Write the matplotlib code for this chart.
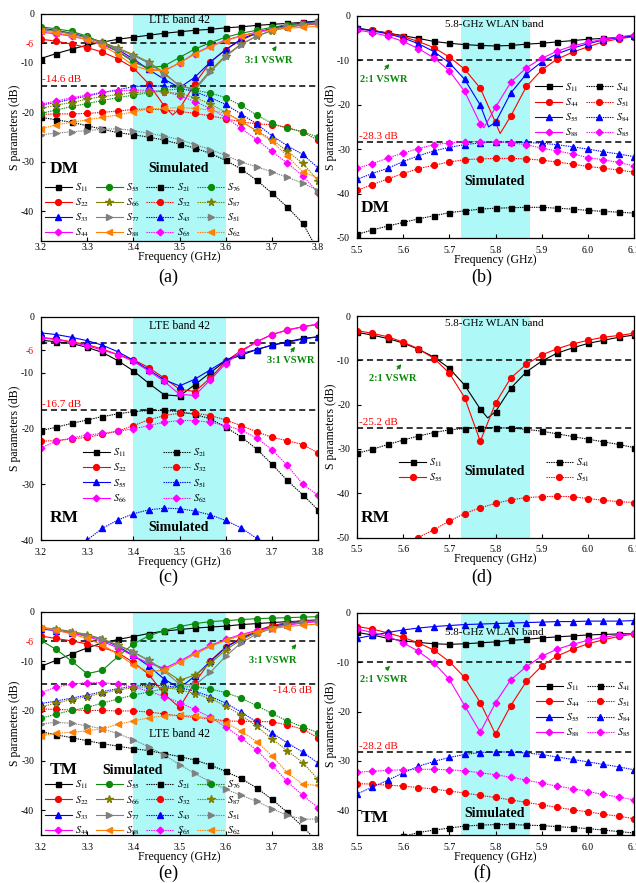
import numpy as np
import matplotlib.pyplot as plt

plt.rcParams['font.family'] = 'Liberation Serif'
plt.rcParams['mathtext.fontset'] = 'stix'
plt.rcParams['axes.unicode_minus'] = False

# frequency samples (GHz)
f_lte = [3.2, 3.233, 3.267, 3.3, 3.333, 3.367, 3.4, 3.433, 3.467, 3.5,
         3.533, 3.567, 3.6, 3.633, 3.667, 3.7, 3.733, 3.767, 3.8]
f_wlan = [5.5, 5.533, 5.567, 5.6, 5.633, 5.667, 5.7, 5.733, 5.767, 5.8,
          5.833, 5.867, 5.9, 5.933, 5.967, 6.0, 6.033, 6.067, 6.1]

# ---- (a) DM, LTE band ----
a_s11 = [-9.1, -8.1, -7.2, -6.4, -5.8, -5.2, -4.8, -4.4, -4.0, -3.7, -3.4, -3.2, -2.9, -2.7, -2.4, -2.2, -2.0, -1.8, -1.5]
a_s22 = [-5.2, -5.6, -6.2, -6.9, -7.8, -9.2, -11.0, -14.2, -18.7, -19.3, -14.2, -9.8, -7.3, -5.4, -4.0, -3.0, -2.3, -1.9, -1.7]
a_s33 = [-3.0, -3.4, -4.0, -4.8, -5.8, -7.3, -9.2, -11.3, -13.3, -15.0, -12.9, -9.8, -7.3, -5.2, -3.9, -3.0, -2.4, -2.0, -1.6]
a_s44 = [-3.8, -4.1, -4.6, -5.3, -6.3, -7.7, -9.5, -11.3, -11.6, -10.0, -8.1, -6.6, -5.4, -4.5, -3.8, -3.1, -2.7, -2.4, -2.1]
a_s55 = [-2.7, -3.1, -3.6, -4.6, -6.0, -7.7, -9.8, -11.0, -10.6, -8.9, -7.2, -5.9, -4.8, -4.0, -3.4, -2.8, -2.3, -2.1, -1.9]
a_s66 = [-3.2, -3.5, -4.1, -4.9, -5.8, -7.0, -8.3, -9.8, -12.0, -14.7, -15.2, -11.5, -8.5, -6.2, -4.6, -3.5, -2.8, -2.3, -2.0]
a_s77 = [-3.3, -3.6, -4.2, -5.0, -6.0, -7.2, -8.5, -10.0, -12.3, -14.5, -15.5, -11.8, -8.7, -6.3, -4.6, -3.4, -2.6, -2.1, -1.8]
a_s88 = [-3.5, -3.9, -4.5, -5.3, -6.5, -8.3, -10.5, -11.5, -11.5, -10.0, -8.2, -6.7, -5.5, -4.6, -3.9, -3.3, -3.0, -2.8, -2.6]
a_s21 = [-21.0, -21.5, -22.0, -22.7, -23.4, -24.1, -24.5, -25.0, -25.6, -26.4, -27.2, -28.3, -29.7, -31.4, -33.7, -36.3, -39.1, -42.4, -48.0]
a_s32 = [-20.4, -20.3, -20.3, -20.2, -20.0, -19.7, -19.4, -19.3, -19.5, -19.8, -20.2, -20.7, -21.3, -21.9, -22.3, -22.5, -23.0, -24.0, -25.6]
a_s43 = [-18.5, -18.0, -17.3, -16.7, -16.0, -15.4, -14.8, -14.6, -14.7, -15.1, -15.8, -17.0, -18.4, -20.3, -22.3, -24.7, -26.7, -28.5, -31.2]
a_s65 = [-18.3, -17.7, -17.0, -16.5, -15.9, -15.6, -15.5, -15.5, -15.8, -16.6, -17.8, -19.2, -21.0, -23.2, -25.5, -27.9, -30.2, -32.8, -36.2]
a_s76 = [-20.2, -19.5, -18.8, -18.2, -17.6, -17.0, -16.5, -16.0, -15.5, -15.3, -15.5, -16.1, -17.0, -18.6, -20.5, -22.2, -23.2, -23.9, -25.0]
a_s87 = [-19.2, -18.5, -18.0, -17.3, -16.8, -16.4, -16.0, -15.8, -15.8, -16.2, -17.0, -18.3, -20.0, -21.8, -23.7, -25.5, -27.8, -30.3, -33.8]
a_s51 = [-24.5, -24.2, -23.9, -23.7, -23.4, -23.3, -23.7, -24.2, -24.8, -25.5, -26.5, -27.5, -28.7, -30.0, -31.0, -32.0, -33.1, -34.3, -35.8]
a_s62 = [-23.3, -22.5, -22.0, -21.5, -21.0, -20.5, -19.9, -19.3, -19.2, -19.0, -19.2, -19.5, -20.2, -21.7, -23.8, -25.8, -28.8, -32.0, -33.3]
a_s22_dip = (3.485, -20.5)

# ---- (b) DM, WLAN band ----
b_s11 = [-2.8, -3.3, -3.9, -4.5, -5.1, -5.8, -6.2, -6.5, -6.7, -6.8, -6.7, -6.4, -6.2, -5.9, -5.6, -5.3, -5.1, -4.9, -4.6]
b_s44 = [-3.0, -3.3, -3.9, -4.7, -5.8, -7.2, -9.3, -12.0, -16.3, -24.0, -22.6, -15.9, -12.2, -9.8, -8.2, -7.0, -5.9, -5.2, -4.7]
b_s55 = [-2.8, -3.4, -4.1, -5.0, -6.3, -8.1, -10.6, -14.3, -20.1, -24.0, -17.4, -13.1, -10.4, -8.6, -7.3, -6.3, -5.5, -4.9, -4.5]
b_s88 = [-3.2, -3.8, -4.6, -5.8, -7.4, -9.5, -12.4, -17.0, -24.3, -20.6, -15.0, -11.7, -9.6, -8.0, -6.8, -6.0, -5.3, -4.8, -4.3]
b_s41 = [-49.2, -48.2, -47.3, -46.5, -45.7, -45.0, -44.3, -43.9, -43.5, -43.3, -43.2, -43.1, -43.1, -43.3, -43.5, -43.8, -44.0, -44.2, -44.4]
b_s51 = [-39.3, -38.0, -36.7, -35.5, -34.4, -33.6, -32.9, -32.4, -32.2, -32.1, -32.1, -32.2, -32.5, -32.9, -33.4, -33.9, -34.3, -34.7, -35.2]
b_s84 = [-36.8, -35.5, -34.3, -32.8, -31.5, -30.4, -29.6, -29.0, -28.6, -28.4, -28.4, -28.5, -28.7, -29.0, -29.5, -30.0, -30.6, -31.1, -31.7]
b_s85 = [-34.3, -33.3, -32.0, -30.9, -29.9, -29.0, -28.6, -28.3, -28.3, -28.4, -28.6, -29.0, -29.8, -30.4, -31.1, -31.9, -32.4, -33.0, -33.8]
b_s44_dip = (5.81, -26.5)
b_s55_dip = (5.785, -25.0)
b_s88_dip = (5.775, -25.2)

# ---- (c) RM, LTE band ----
c_s11 = [-4.2, -4.5, -4.8, -5.5, -6.4, -7.9, -9.7, -11.9, -14.0, -14.2, -12.2, -10.0, -7.9, -6.9, -5.9, -5.1, -4.5, -3.9, -3.6]
c_s22 = [-3.7, -4.0, -4.5, -5.0, -5.8, -6.8, -7.7, -9.1, -11.0, -13.0, -13.4, -11.0, -8.0, -6.1, -4.5, -3.2, -2.4, -1.8, -1.4]
c_s55 = [-2.9, -3.2, -3.7, -4.3, -5.1, -6.3, -7.8, -9.5, -11.3, -12.4, -11.2, -9.5, -7.8, -6.6, -5.9, -5.1, -4.6, -4.0, -3.6]
c_s66 = [-3.8, -4.1, -4.6, -5.2, -6.0, -6.8, -8.0, -9.7, -11.6, -13.9, -14.1, -11.3, -8.4, -6.3, -4.5, -3.2, -2.4, -1.8, -1.3]
c_s21 = [-20.4, -19.8, -19.1, -18.5, -17.9, -17.4, -17.0, -16.8, -16.8, -17.0, -17.5, -18.3, -19.8, -21.5, -23.7, -26.4, -29.3, -31.9, -34.6]
c_s32 = [-22.3, -22.2, -21.9, -21.6, -21.1, -20.5, -19.5, -18.5, -17.7, -17.3, -17.3, -17.7, -18.5, -19.5, -20.6, -21.6, -22.2, -22.9, -24.4]
c_s51 = [-47.0, -44.5, -42.0, -40.0, -37.9, -36.4, -35.3, -34.6, -34.3, -34.4, -34.8, -35.5, -36.5, -37.8, -39.7, -42.0, -44.5, -47.0, -50.0]
c_s62 = [-23.5, -22.3, -21.7, -21.2, -20.9, -20.5, -20.1, -19.5, -18.9, -18.6, -18.6, -18.9, -19.5, -20.3, -21.7, -23.8, -26.6, -30.0, -32.0]

# ---- (d) RM, WLAN band ----
d_s11 = [-3.7, -4.3, -5.1, -6.1, -7.5, -9.3, -11.8, -15.6, -21.0, -21.6, -16.3, -12.6, -10.2, -8.4, -7.2, -6.2, -5.5, -4.8, -4.3]
d_s55 = [-3.3, -3.9, -4.7, -5.9, -7.4, -9.6, -12.9, -18.4, -28.3, -19.7, -14.0, -10.9, -8.8, -7.4, -6.3, -5.5, -4.8, -4.4, -3.9]
d_s41 = [-31.0, -30.1, -29.0, -28.0, -27.1, -26.3, -25.7, -25.4, -25.2, -25.2, -25.3, -25.6, -26.0, -26.6, -27.2, -27.8, -28.4, -29.0, -29.7]
d_s51 = [-58.0, -56.0, -53.5, -51.5, -50.0, -48.2, -46.3, -44.6, -43.3, -42.3, -41.5, -41.0, -40.8, -40.7, -40.8, -41.2, -41.6, -41.9, -42.1]
d_s11_dip = (5.783, -23.0)

# ---- (e) TM, LTE band ----
e_s11 = [-11.0, -9.8, -8.5, -7.3, -6.3, -5.6, -5.0, -4.4, -3.9, -3.6, -3.3, -3.1, -2.9, -2.6, -2.4, -2.2, -2.0, -1.9, -1.8]
e_s22 = [-4.9, -5.4, -5.9, -6.5, -7.2, -8.3, -10.2, -12.6, -16.6, -19.3, -14.3, -9.9, -7.1, -5.3, -3.8, -2.8, -2.2, -1.8, -1.6]
e_s33 = [-3.5, -3.8, -4.2, -4.8, -5.6, -7.0, -8.8, -10.9, -13.6, -15.4, -13.0, -10.0, -7.2, -5.5, -4.0, -3.0, -2.4, -2.0, -1.8]
e_s44 = [-3.3, -3.8, -4.3, -5.0, -6.0, -7.3, -8.9, -10.4, -11.4, -10.0, -8.3, -6.8, -5.6, -4.6, -3.8, -3.2, -2.7, -2.3, -2.0]
e_s55 = [-5.8, -7.6, -10.0, -12.5, -11.8, -9.0, -6.5, -4.9, -3.8, -3.0, -2.4, -2.0, -1.8, -1.6, -1.4, -1.3, -1.2, -1.1, -1.0]
e_s66 = [-3.2, -3.5, -4.0, -4.6, -5.5, -6.7, -8.1, -9.8, -11.8, -13.8, -12.8, -10.4, -7.7, -5.7, -4.2, -3.2, -2.5, -2.1, -1.8]
e_s77 = [-3.3, -3.6, -4.1, -4.8, -5.6, -6.8, -8.2, -9.8, -12.0, -14.6, -14.8, -12.2, -9.0, -6.3, -4.5, -3.4, -2.6, -2.1, -1.8]
e_s88 = [-3.2, -3.7, -4.5, -5.4, -6.7, -8.6, -10.7, -12.1, -11.8, -10.2, -8.6, -7.0, -5.8, -4.8, -4.0, -3.4, -3.0, -2.7, -2.5]
e_s21 = [-24.2, -24.8, -25.4, -26.0, -26.6, -27.1, -27.6, -28.0, -28.6, -29.2, -29.9, -30.9, -32.2, -33.6, -35.5, -37.8, -40.4, -43.3, -46.5]
e_s32 = [-19.6, -19.7, -19.8, -19.9, -19.9, -20.0, -20.0, -20.2, -20.6, -21.0, -21.3, -21.6, -22.0, -22.1, -22.1, -22.2, -22.8, -23.7, -25.4]
e_s43 = [-18.5, -18.0, -17.4, -16.8, -16.1, -15.5, -15.0, -14.8, -14.9, -15.3, -16.0, -17.1, -18.4, -20.2, -22.2, -24.4, -26.4, -28.3, -30.5]
e_s65 = [-16.3, -15.2, -14.6, -14.3, -14.3, -14.6, -15.2, -16.0, -17.1, -18.3, -19.7, -21.3, -23.2, -25.4, -27.9, -30.9, -34.2, -37.0, -39.5]
e_s76 = [-21.5, -20.6, -19.9, -19.3, -18.4, -17.6, -16.8, -16.2, -15.5, -15.2, -15.1, -15.6, -16.3, -17.4, -18.9, -20.5, -22.0, -23.2, -24.4]
e_s87 = [-19.2, -18.4, -17.7, -17.1, -16.4, -15.8, -15.3, -15.1, -15.3, -15.7, -16.5, -17.5, -19.0, -20.8, -23.1, -25.6, -28.0, -30.4, -33.8]
e_s51 = [-22.6, -22.3, -22.5, -23.0, -23.6, -24.6, -25.8, -27.2, -28.9, -30.8, -32.6, -34.3, -35.8, -37.0, -38.2, -39.7, -41.0, -41.8, -41.8]
e_s62 = [-25.0, -24.5, -24.3, -24.0, -23.6, -22.7, -22.0, -21.4, -21.0, -20.9, -21.0, -21.5, -22.4, -24.0, -26.2, -29.0, -32.4, -34.8, -35.0]

# ---- (f) TM, WLAN band ----
f_s11 = [-4.0, -4.5, -5.2, -5.7, -6.0, -6.3, -6.4, -6.3, -6.1, -5.9, -5.6, -5.4, -5.1, -4.9, -4.7, -4.5, -4.4, -4.3, -4.2]
f_s44 = [-2.8, -3.3, -4.1, -5.0, -6.1, -7.6, -9.9, -13.1, -18.2, -24.6, -18.8, -13.9, -10.8, -8.8, -7.4, -6.3, -5.5, -4.8, -4.3]
f_s55 = [-5.2, -4.6, -4.0, -3.5, -3.1, -2.8, -2.6, -2.4, -2.3, -2.2, -2.1, -2.0, -1.9, -1.8, -1.8, -1.7, -1.7, -1.7, -1.6]
f_s88 = [-3.3, -4.0, -4.8, -6.1, -7.8, -10.2, -13.5, -18.8, -24.2, -18.2, -13.6, -10.9, -8.8, -7.4, -6.4, -5.6, -5.0, -4.5, -4.2]
f_s41 = [-47.5, -46.7, -46.0, -45.3, -44.5, -44.0, -43.6, -43.2, -43.0, -42.9, -42.9, -43.0, -43.1, -43.3, -43.5, -43.7, -44.0, -44.3, -44.6]
f_s51 = [-34.6, -34.7, -34.9, -35.1, -35.4, -35.7, -36.1, -36.5, -37.0, -37.4, -37.9, -38.4, -38.9, -39.4, -39.9, -40.3, -40.8, -41.2, -41.7]
f_s84 = [-36.7, -35.3, -33.9, -32.4, -31.1, -30.1, -29.3, -28.7, -28.3, -28.2, -28.2, -28.4, -28.7, -29.2, -29.7, -30.2, -30.7, -31.2, -31.8]
f_s85 = [-32.3, -32.1, -31.9, -31.8, -31.7, -31.7, -31.8, -32.0, -32.4, -32.8, -33.3, -33.9, -34.5, -35.1, -35.6, -36.2, -36.8, -37.3, -37.9]

GREEN = '#0a8a0a'
CYAN = '#aef8f8'
COLORS = ['black', 'red', 'blue', 'magenta', GREEN, '#808000', '#808080', '#ff8000']
MARKERS = ['s', 'o', '^', 'D', 'o', '*', '>', '<']
MSIZE = [3.6, 4.2, 4.2, 3.4, 4.2, 5.5, 4.2, 4.2]
DOT = (0, (1.2, 0.9))


def sname(p):
    return r'$S_{\mathrm{%s}}$' % p


def trace(ax, f, y, k, ls, port, dip=None):
    x, yy = list(f), list(y)
    marks = list(range(len(x)))
    if dip is not None:
        i = int(np.searchsorted(x, dip[0]))
        x.insert(i, dip[0])
        yy.insert(i, dip[1])
        marks = [j for j in range(len(x)) if j != i]
    ax.plot(x, yy, color=COLORS[k], ls=ls, lw=0.8, marker=MARKERS[k],
            ms=MSIZE[k], markevery=marks, label=sname(port))


def frame(ax, xlim, ylim, yticks, band, xpad=5.5):
    ax.axvspan(band[0], band[1], color=CYAN, lw=0, zorder=0)
    ax.set_xlim(*xlim)
    ax.set_ylim(*ylim)
    ax.set_yticks(yticks, labels=[str(v) for v in yticks])
    for t in ax.get_yticklabels():
        if t.get_text() == '-6':
            t.set_color('red')
    ax.tick_params(direction='in', labelsize=7, length=3, width=0.8)
    ax.tick_params(axis='x', pad=xpad)
    ax.tick_params(axis='y', pad=5)
    for s in ax.spines.values():
        s.set_linewidth(0.9)
    ax.set_xlabel('Frequency (GHz)', fontsize=8.5, labelpad=-0.6)
    ax.set_ylabel('S parameters (dB)', fontsize=8.5, labelpad=0)


def hline(ax, y):
    ax.axhline(y, color='black', ls=(0, (4, 2.5)), lw=1.1, zorder=1)


def vswr(ax, txt, pos, tail, tip):
    ax.text(pos[0], pos[1], txt, color=GREEN, fontsize=7.5, fontweight='bold',
            ha='center', va='center')
    ax.annotate('', xy=tip, xytext=tail,
                arrowprops=dict(arrowstyle='-|>', color=GREEN, lw=0.8,
                                mutation_scale=6))


def legend(ax, anchor, ncol, colsp, handles=None):
    kw = dict(loc='upper left', bbox_to_anchor=anchor, ncol=ncol, frameon=False,
              fontsize=7.5, handlelength=2.6, handletextpad=0.3,
              columnspacing=colsp, labelspacing=0.25, borderpad=0,
              borderaxespad=0)
    if handles is not None:
        return ax.legend(handles=handles, **kw)
    return ax.legend(**kw)


def box(l, t, r, b):
    return [l / 636, 1 - b / 883, (r - l) / 636, (b - t) / 883]


fig = plt.figure(figsize=(6.36, 8.83), dpi=100)

ax_a = fig.add_axes(box(41, 13.5, 318, 241))
ax_b = fig.add_axes(box(357, 15.7, 634, 238))
ax_c = fig.add_axes(box(41, 316.7, 318, 540))
ax_d = fig.add_axes(box(357, 316, 634, 537.5))
ax_e = fig.add_axes(box(41, 611.7, 318, 835))
ax_f = fig.add_axes(box(357, 612.7, 634, 835))

# (a)
ax = ax_a
frame(ax, (3.2, 3.8), (-46, 0), [0, -6, -10, -20, -30, -40], (3.4, 3.6), xpad=1.5)
refl = [('11', a_s11), ('22', a_s22), ('33', a_s33), ('44', a_s44),
        ('55', a_s55), ('66', a_s66), ('77', a_s77), ('88', a_s88)]
coup = [('21', a_s21), ('32', a_s32), ('43', a_s43), ('65', a_s65),
        ('76', a_s76), ('87', a_s87), ('51', a_s51), ('62', a_s62)]
for k, (p, y) in enumerate(refl):
    trace(ax, f_lte, y, k, '-', p, a_s22_dip if p == '22' else None)
for k, (p, y) in enumerate(coup):
    trace(ax, f_lte, y, k, DOT, p)
hline(ax, -6)
hline(ax, -14.6)
ax.text(3.5, -1.4, 'LTE band 42', fontsize=8.5, ha='center', va='center')
ax.text(3.203, -13.3, '-14.6 dB', color='red', fontsize=8, va='center')
vswr(ax, '3:1 VSWR', (3.694, -9.45), (3.70, -7.9), (3.714, -6.1))
ax.text(3.219, -31.4, 'DM', fontsize=12.5, fontweight='bold', va='center')
ax.text(3.497, -31.4, 'Simulated', fontsize=10, fontweight='bold', ha='center', va='center')
legend(ax, (0.014, 0.262), 4, 0.6)

# (b)
ax = ax_b
frame(ax, (5.5, 6.1), (-50, 0), [0, -10, -20, -30, -40, -50], (5.725, 5.875))
refl = [('11', b_s11, None), ('44', b_s44, b_s44_dip),
        ('55', b_s55, b_s55_dip), ('88', b_s88, b_s88_dip)]
coup = [('41', b_s41), ('51', b_s51), ('84', b_s84), ('85', b_s85)]
for k, (p, y, dip) in enumerate(refl):
    trace(ax, f_wlan, y, k, '-', p, dip)
for k, (p, y) in enumerate(coup):
    trace(ax, f_wlan, y, k, DOT, p)
hline(ax, -10)
hline(ax, -28.3)
ax.text(5.797, -1.9, '5.8-GHz WLAN band', fontsize=8, ha='center', va='center')
ax.text(5.504, -27.2, '-28.3 dB', color='red', fontsize=8, va='center')
vswr(ax, '2:1 VSWR', (5.558, -14.4), (5.556, -12.6), (5.574, -10.4))
ax.text(5.509, -43.3, 'DM', fontsize=12.5, fontweight='bold', va='center')
ax.text(5.797, -37.3, 'Simulated', fontsize=10, fontweight='bold', ha='center', va='center')
legend(ax, (0.643, 0.706), 2, 0.6)

# (c)
ax = ax_c
frame(ax, (3.2, 3.8), (-40, 0), [0, -6, -10, -20, -30, -40], (3.4, 3.6))
refl = [('11', c_s11), ('22', c_s22), ('55', c_s55), ('66', c_s66)]
coup = [('21', c_s21), ('32', c_s32), ('51', c_s51), ('62', c_s62)]
for k, (p, y) in enumerate(refl):
    trace(ax, f_lte, y, k, '-', p)
for k, (p, y) in enumerate(coup):
    trace(ax, f_lte, y, k, DOT, p)
hline(ax, -4.8)
hline(ax, -16.7)
ax.text(3.5, -1.7, 'LTE band 42', fontsize=8.5, ha='center', va='center')
ax.text(3.203, -15.8, '-16.7 dB', color='red', fontsize=8, va='center')
vswr(ax, '3:1 VSWR', (3.741, -7.9), (3.738, -6.7), (3.754, -5.0))
ax.text(3.219, -36.1, 'RM', fontsize=12.5, fontweight='bold', va='center')
ax.text(3.497, -37.7, 'Simulated', fontsize=10, fontweight='bold', ha='center', va='center')
legend(ax, (0.15, 0.417), 2, 3.4)

# (d)
ax = ax_d
frame(ax, (5.5, 6.1), (-50, 0), [0, -10, -20, -30, -40, -50], (5.725, 5.875))
trace(ax, f_wlan, d_s11, 0, '-', '11', d_s11_dip)
trace(ax, f_wlan, d_s55, 1, '-', '55')
trace(ax, f_wlan, d_s41, 0, DOT, '41')
trace(ax, f_wlan, d_s51, 1, DOT, '51')
hline(ax, -10)
hline(ax, -25.2)
ax.text(5.797, -1.8, '5.8-GHz WLAN band', fontsize=8, ha='center', va='center')
ax.text(5.504, -24.0, '-25.2 dB', color='red', fontsize=8, va='center')
vswr(ax, '2:1 VSWR', (5.578, -14.0), (5.583, -12.5), (5.600, -10.4))
ax.text(5.509, -45.6, 'RM', fontsize=12.5, fontweight='bold', va='center')
ax.text(5.797, -35.1, 'Simulated', fontsize=10, fontweight='bold', ha='center', va='center')
lines = ax.get_lines()
leg1 = legend(ax, (0.152, 0.365), 1, 0.6, handles=[lines[0], lines[1]])
ax.add_artist(leg1)
legend(ax, (0.682, 0.365), 1, 0.6, handles=[lines[2], lines[3]])

# (e)
ax = ax_e
frame(ax, (3.2, 3.8), (-45, 0), [0, -6, -10, -20, -30, -40], (3.4, 3.6))
refl = [('11', e_s11), ('22', e_s22), ('33', e_s33), ('44', e_s44),
        ('55', e_s55), ('66', e_s66), ('77', e_s77), ('88', e_s88)]
coup = [('21', e_s21), ('32', e_s32), ('43', e_s43), ('65', e_s65),
        ('76', e_s76), ('87', e_s87), ('51', e_s51), ('62', e_s62)]
for k, (p, y) in enumerate(refl):
    trace(ax, f_lte, y, k, '-', p)
for k, (p, y) in enumerate(coup):
    trace(ax, f_lte, y, k, DOT, p)
hline(ax, -6)
hline(ax, -14.6)
ax.text(3.501, -24.6, 'LTE band 42', fontsize=8.5, ha='center', va='center')
ax.text(3.787, -15.9, '-14.6 dB', color='red', fontsize=8, ha='right', va='center')
vswr(ax, '3:1 VSWR', (3.701, -9.8), (3.741, -7.9), (3.757, -6.1))
ax.text(3.219, -32.0, 'TM', fontsize=12.5, fontweight='bold', va='center')
ax.text(3.398, -32.0, 'Simulated', fontsize=10, fontweight='bold', ha='center', va='center')
legend(ax, (0.014, 0.251), 4, 0.6)

# (f)
ax = ax_f
frame(ax, (5.5, 6.1), (-45, 0), [0, -10, -20, -30, -40], (5.725, 5.875))
refl = [('11', f_s11), ('44', f_s44), ('55', f_s55), ('88', f_s88)]
coup = [('41', f_s41), ('51', f_s51), ('84', f_s84), ('85', f_s85)]
for k, (p, y) in enumerate(refl):
    trace(ax, f_wlan, y, k, '-', p)
for k, (p, y) in enumerate(coup):
    trace(ax, f_wlan, y, k, DOT, p)
hline(ax, -10)
hline(ax, -28.2)
ax.text(5.797, -4.0, '5.8-GHz WLAN band', fontsize=8, ha='center', va='center')
ax.text(5.504, -27.1, '-28.2 dB', color='red', fontsize=8, va='center')
vswr(ax, '2:1 VSWR', (5.558, -13.5), (5.559, -11.9), (5.576, -10.4))
ax.text(5.509, -41.6, 'TM', fontsize=12.5, fontweight='bold', va='center')
ax.text(5.797, -40.6, 'Simulated', fontsize=10, fontweight='bold', ha='center', va='center')
legend(ax, (0.646, 0.693), 2, 0.6)

# panel letters
for lab, px, py in [('(a)', 168, 277), ('(b)', 482, 277), ('(c)', 168, 577),
                    ('(d)', 482, 577), ('(e)', 168, 873), ('(f)', 482, 873)]:
    fig.text(px / 636, 1 - py / 883, lab, fontsize=13, ha='center', va='center')

fig.savefig('out.png', dpi=100)
